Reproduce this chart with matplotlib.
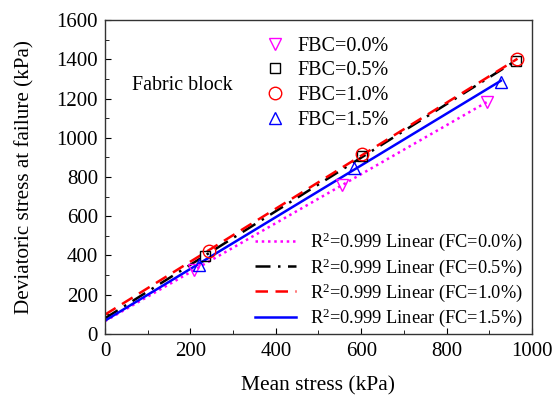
import numpy as np
import matplotlib
matplotlib.use("Agg")
import matplotlib.pyplot as plt
from matplotlib.ticker import MultipleLocator

plt.rcParams['font.family'] = ['Liberation Serif', 'DejaVu Serif']
plt.rcParams['mathtext.fontset'] = 'custom'
plt.rcParams['mathtext.rm'] = 'Liberation Serif'
plt.rcParams['mathtext.it'] = 'Liberation Serif:italic'

labels = ["FBC=0.0%", "FBC=0.5%", "FBC=1.0%", "FBC=1.5%"]
fit_labels = [r"R$^2$=0.999 Linear (FC=0.0%)", r"R$^2$=0.999 Linear (FC=0.5%)",
              r"R$^2$=0.999 Linear (FC=1.0%)", r"R$^2$=0.999 Linear (FC=1.5%)"]
x_00 = [209, 554, 894]
y_00 = [325, 760, 1180]
x_05 = [235, 603, 962]
y_05 = [398, 908, 1390]
x_10 = [243, 603, 966]
y_10 = [424, 918, 1400]
x_15 = [220, 582, 927]
y_15 = [352, 848, 1284]

xs = [x_00, x_05, x_10, x_15]
ys = [y_00, y_05, y_10, y_15]
colors = ['#FF00FF', '#000000', '#FF0000', '#0000FF']
markers = ['v', 's', 'o', '^']
msizes = [9, 7, 9, 9]
lstyles = [(0, (1, 1.5)), (0, (6, 3, 1, 3)), (0, (5, 3)), '-']

fig = plt.figure(figsize=(5.54, 3.97), dpi=100)
ax = fig.add_axes([0.1895, 0.1587, 0.7708, 0.7909])

mk_handles = []
ln_handles = []
for x, y, c, m, ms, ls, lab, flab in zip(xs, ys, colors, markers, msizes, lstyles, labels, fit_labels):
    h, = ax.plot(x, y, linestyle='none', marker=m, markersize=ms, markerfacecolor='none',
                 markeredgecolor=c, markeredgewidth=1.0, label=lab, zorder=3)
    mk_handles.append(h)
    k, b = np.polyfit(x, y, 1)
    xx = np.array([0, max(x)])
    l, = ax.plot(xx, k * xx + b, color=c, linestyle=ls, linewidth=1.8, label=flab, zorder=2)
    ln_handles.append(l)

ax.set_xlim(0, 1000)
ax.set_ylim(0, 1600)
ax.xaxis.set_major_locator(MultipleLocator(200))
ax.xaxis.set_minor_locator(MultipleLocator(100))
ax.yaxis.set_major_locator(MultipleLocator(200))
ax.yaxis.set_minor_locator(MultipleLocator(100))
ax.tick_params(which='both', direction='in', labelsize=15, top=False, right=False)
ax.tick_params(axis='x', which='both', pad=6)
ax.tick_params(axis='y', which='both', pad=5)
ax.tick_params(which='major', length=4)
ax.tick_params(which='minor', length=3)
for s in ax.spines.values():
    s.set_linewidth(1.0)
    s.set_color('#333333')

ax.set_xlabel("Mean stress (kPa)", fontsize=15.5, labelpad=11)
ax.set_ylabel("Deviatoric stress at failure (kPa)", fontsize=15.2, labelpad=16)

ax.text(63, 1265, "Fabric block", fontsize=14.4, va='center')

leg1 = ax.legend(handles=mk_handles, loc='upper left', bbox_to_anchor=(0.32, 1.005),
                 frameon=False, fontsize=14.5, handlelength=1.5, labelspacing=0.28,
                 handletextpad=0.35)
ax.add_artist(leg1)
ax.legend(handles=ln_handles, loc='lower right', bbox_to_anchor=(0.996, -0.008),
          frameon=False, fontsize=13.2, handlelength=2.2, labelspacing=0.15,
          borderaxespad=0.0, handletextpad=0.8)

fig.savefig("out.png", dpi=100)
